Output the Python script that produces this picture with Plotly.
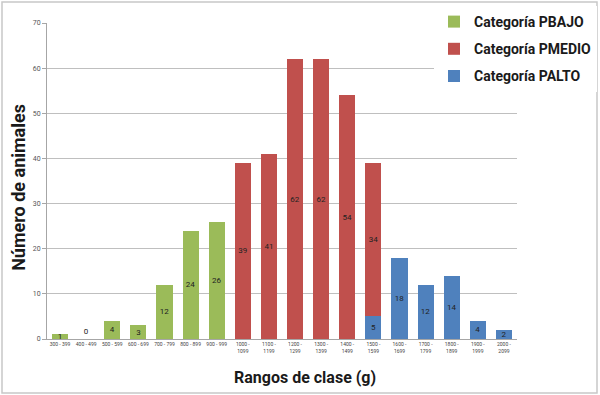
import plotly.graph_objects as go

categories = ["300 - 399", "400 - 499", "500 - 599", "600 - 699", "700 - 799", "800 - 899",
              "900 - 999", "1000 -<br>1099", "1100 -<br>1199", "1200 -<br>1299", "1300 -<br>1399",
              "1400 -<br>1499", "1500 -<br>1599", "1600 -<br>1699", "1700 -<br>1799",
              "1800 -<br>1899", "1900 -<br>1999", "2000 -<br>2099"]

pbajo_cats = categories[0:7]
pbajo_vals = [1, 0, 4, 3, 12, 24, 26]
pmedio_cats = categories[7:13]
pmedio_vals = [39, 41, 62, 62, 54, 34]
palto_cats = categories[12:18]
palto_vals = [5, 18, 12, 14, 4, 2]

GREEN = "#9BBB59"
RED = "#C0504D"
BLUE = "#4F81BD"
FONT = "Roboto"

fig = go.Figure()

def add(cats, vals, color, name, rank):
    fig.add_trace(go.Bar(
        x=cats, y=vals, name=name, marker=dict(color=color, line=dict(width=0)),
        text=[str(v) for v in vals],
        textposition=["outside" if v == 0 else "inside" for v in vals],
        insidetextanchor="middle", textangle=0,
        textfont=dict(size=8, color="#222222", family=FONT),
        cliponaxis=False,
        legendrank=rank, legendgroup=name,
    ))

add(pbajo_cats, pbajo_vals, GREEN, "Categoría PBAJO", 1)
add(palto_cats, palto_vals, BLUE, "Categoría PALTO", 3)
add(pmedio_cats, pmedio_vals, RED, "Categoría PMEDIO", 2)

fig.update_layout(
    width=600, height=395,
    margin=dict(l=47, r=83, t=23, b=56, autoexpand=False),
    paper_bgcolor="white", plot_bgcolor="white",
    barmode="stack", bargap=0.38,
    uniformtext=dict(minsize=8, mode="show"),
    font=dict(family=FONT, color="#222222"),
    legend=dict(
        xref="container", yref="container",
        x=434 / 600, y=1 - 6 / 395, xanchor="left", yanchor="top",
        bgcolor="rgba(255,255,255,1)",
        font=dict(size=14, family=FONT, color="#1a1a1a", weight="bold"),
        tracegroupgap=6, itemwidth=30, traceorder="grouped",
    ),
    xaxis=dict(
        type="category", categoryorder="array", categoryarray=categories,
        tickfont=dict(size=5, color="#444444"), showline=True, linecolor="#A6A6A6",
        linewidth=1, ticks="", showgrid=False, tickangle=0, automargin=False,
    ),
    yaxis=dict(
        range=[0, 70], dtick=10, tickfont=dict(size=7, color="#555555"),
        showgrid=True, gridcolor="#BFBFBF", gridwidth=1, automargin=False,
        showline=True, linecolor="#A6A6A6", ticks="outside", ticklen=4, tickcolor="#A6A6A6",
        zeroline=False,
    ),
    annotations=[
        dict(text="<b>Número de animales</b>", xref="paper", yref="paper",
             x=-0.062, y=0.481, textangle=-90, showarrow=False,
             font=dict(size=18, family=FONT, color="#1a1a1a"), xanchor="center", yanchor="middle"),
        dict(text="<b>Rangos de clase (g)</b>", xref="paper", yref="paper",
             x=0.549, y=-0.123, showarrow=False,
             font=dict(size=16, family=FONT, color="#1a1a1a"), xanchor="center", yanchor="middle"),
    ],
    shapes=[
        dict(type="rect", xref="paper", yref="paper",
             x0=(2 - 47) / 470, x1=(597 - 47) / 470,
             y0=-(393 - 339) / 316, y1=(339 - 2) / 316,
             line=dict(color="#C8C8C8", width=1.5), layer="below"),
    ],
)

fig.write_html("out.html", config={"displayModeBar": False},
               post_script="document.body.style.margin='0';document.body.style.padding='0';")
